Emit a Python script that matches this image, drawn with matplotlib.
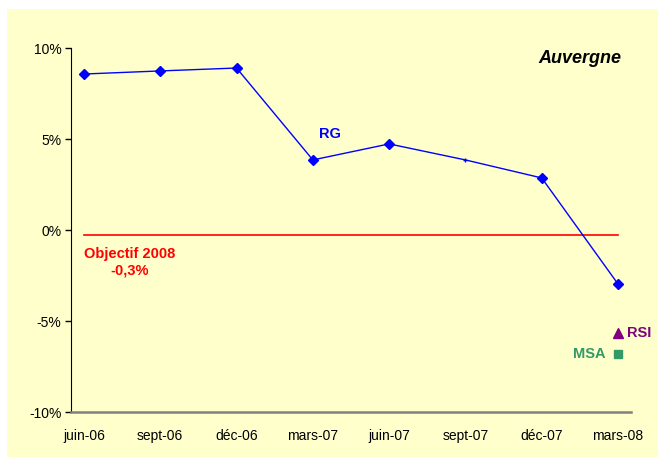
import matplotlib
matplotlib.use('Agg')
from matplotlib import pyplot as plt
from matplotlib.patches import Rectangle

plt.rcParams['font.family'] = ['Liberation Sans', 'DejaVu Sans']

# data
periods = ['juin-06', 'sept-06', 'déc-06', 'mars-07', 'juin-07', 'sept-07', 'déc-07', 'mars-08']
rg = [8.57, 8.74, 8.9, 3.85, 4.73, 3.85, 2.86, -2.97]
objectif = -0.3
rsi = -5.66
msa = -6.81

bg = '#FFFFCC'

fig = plt.figure(figsize=(6.58, 4.57), dpi=100, facecolor='white')
# yellow chart area with a thin white border top/left
fig.patches.append(Rectangle((7 / 658, 0), 1, 1 - 9 / 457, transform=fig.transFigure,
                             facecolor=bg, edgecolor='none', zorder=-10))
ax = fig.add_axes([71 / 658, 1 - 412 / 457, (631 - 71) / 658, (412 - 48) / 457])
ax.set_facecolor(bg)

x = list(range(len(periods)))

# RG line
ax.plot(x, rg, color='#0000FF', linewidth=1, zorder=3)
big = [i for i in x if i != 5]
ax.plot([x[i] for i in big], [rg[i] for i in big], linestyle='none', marker='D',
        markersize=5.5, color='#0000FF', zorder=4)
ax.plot([x[5]], [rg[5]], linestyle='none', marker='+', markersize=3,
        color='#0000FF', zorder=4)

# objective line
ax.plot([x[0], x[-1]], [objectif, objectif], color='#FF0000', linewidth=1.2, zorder=2)

# RSI / MSA points
ax.plot([x[-1]], [rsi], linestyle='none', marker='^', markersize=7, color='#800080')
ax.plot([x[-1]], [msa], linestyle='none', marker='s', markersize=6, color='#339966')

ax.set_xlim(-0.17, 7.17)
ax.set_ylim(-10, 10)
ax.set_yticks([-10, -5, 0, 5, 10])
ax.set_yticklabels(['-10%', '-5%', '0%', '5%', '10%'])
ax.set_xticks(x)
ax.set_xticklabels(periods)
ax.tick_params(axis='y', length=4, width=1, labelsize=10, pad=3)
ax.tick_params(axis='x', length=0, labelsize=10, pad=12)

for s in ['top', 'right']:
    ax.spines[s].set_visible(False)
ax.spines['left'].set_color('black')
ax.spines['bottom'].set_color('#808080')
ax.spines['bottom'].set_linewidth(1.8)

# labels
ax.text(7.05, 9.4, 'Auvergne', fontsize=13, fontweight='bold', fontstyle='italic',
        ha='right', va='center')
ax.text(3.22, 5.3, 'RG', fontsize=10.5, fontweight='bold', color='#0000FF', ha='center', va='center')
ax.text(0.0, -1.3, 'Objectif 2008', fontsize=10.5, fontweight='bold', color='#FF0000',
        ha='left', va='center')
ax.text(0.6, -2.2, '-0,3%', fontsize=10.5, fontweight='bold', color='#FF0000',
        ha='center', va='center')
ax.text(7.12, rsi, 'RSI', fontsize=10.5, fontweight='bold', color='#800080', ha='left', va='center')
ax.text(6.84, msa, 'MSA', fontsize=10.5, fontweight='bold', color='#339966', ha='right', va='center')

plt.savefig('out.png', dpi=100, facecolor=fig.get_facecolor())
